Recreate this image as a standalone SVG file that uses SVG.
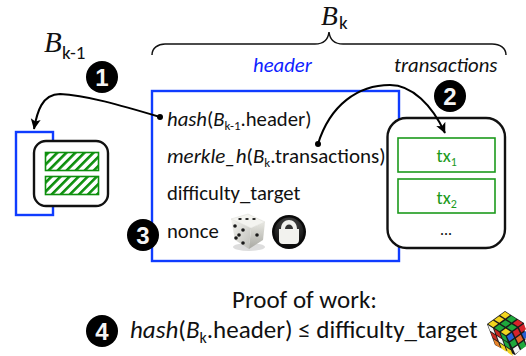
<svg xmlns="http://www.w3.org/2000/svg" width="526" height="356" viewBox="0 0 526 356">
<style>
text{font-family:"Carlito","Lato","Open Sans","Liberation Sans",sans-serif;fill:#111;font-size:20.700px}
.i{font-style:italic}
.b{font-family:"Liberation Serif",serif;font-style:italic;font-size:29px}
.s{font-size:19px}
.blue{fill:none;stroke:#0f3cff;stroke-width:2.4}
.blk{fill:#fff;stroke:#111;stroke-width:2.4}
.tx{fill:#fff;stroke:#1c9a1c;stroke-width:1.6}
.c{fill:none;stroke:#000;stroke-width:2;marker-end:url(#a)}
.n{fill:#f4f4f4;font-family:"Liberation Sans",sans-serif;font-weight:bold;font-size:24px;text-anchor:middle}
.gt{fill:#1c9a1c;font-size:18.500px}
</style>
<defs>
<marker id="a" markerWidth="12" markerHeight="12" refX="10" refY="6" orient="auto" markerUnits="userSpaceOnUse"><path d="M0 1L10.500 6L0 11L2.500 6Z" fill="#000"/></marker>
<pattern id="h" width="6.400" height="6.400" patternUnits="userSpaceOnUse" patternTransform="rotate(45)"><rect width="6.400" height="6.400" fill="#fff"/><rect width="2.600" height="6.400" fill="#0d8f0d"/></pattern>
<linearGradient id="dl" x1="0" y1="0" x2="1" y2="1"><stop offset="0" stop-color="#f6f6f2"/><stop offset="1" stop-color="#bdbdb8"/></linearGradient>
<linearGradient id="dr" x1="0" y1="0" x2="0" y2="1"><stop offset="0" stop-color="#e8e8e2"/><stop offset="1" stop-color="#a8a8a2"/></linearGradient>
<radialGradient id="lk" cx="0.500" cy="0.300" r="0.700"><stop offset="0" stop-color="#555"/><stop offset="1" stop-color="#0a0a0a"/></radialGradient>
</defs>
<g id="prev-block">
<rect class="blue" x="16" y="132" width="37" height="83"/>
<rect class="blk" x="34" y="141" width="74" height="65" rx="12"/>
<rect x="45.500" y="152.500" width="53" height="18" fill="url(#h)" stroke="#0d8f0d" stroke-width="1.600"/>
<rect x="45.500" y="176.500" width="53" height="18" fill="url(#h)" stroke="#0d8f0d" stroke-width="1.600"/>
<text class="b" x="44" y="52">B</text><text x="62" y="59" style="font-size:19px">k-1</text>
</g>
<g id="brace"><path fill="none" stroke="#111" stroke-width="1.500" d="M152 55C152 48 158 44 165 44H315C323 44 328 40 329 32C330 40 335 44 343 44H492C500 44 506 48 506 55"/>
<text class="b" x="321" y="24.500" style="font-size:27.500px">B</text><text x="339" y="29" class="s">k</text></g>
<g id="header">
<rect class="blue" x="152" y="91" width="247" height="170"/>
<text class="i" x="253" y="72" style="fill:#0f1fff">header</text>
<text x="167" y="126"><tspan class="i">hash</tspan>(<tspan class="i">B</tspan><tspan dy="4" font-size="13">k-1</tspan><tspan dy="-4">.header)</tspan></text>
<text x="167" y="163" style="font-size:21px"><tspan class="i">merkle_h</tspan>(<tspan class="i">B</tspan><tspan dy="4" font-size="13">k</tspan><tspan dy="-4">.transactions)</tspan></text>
<text x="167" y="200">difficulty_target</text>
<text x="167" y="238">nonce</text>
</g>
<g id="transactions">
<text class="i" x="394" y="72">transactions</text>
<rect class="blk" x="387.500" y="118" width="117.500" height="130" rx="19"/>
<rect class="tx" x="398" y="138" width="97" height="34"/>
<text x="436.500" y="162" class="gt">tx<tspan dy="4" font-size="12">1</tspan></text>
<rect class="tx" x="398" y="179" width="97" height="34"/>
<text x="436.500" y="204" class="gt">tx<tspan dy="4" font-size="12">2</tspan></text>
<text x="440" y="235" style="font-size:16px">...</text>
</g>
<g id="connectors">
<circle cx="160" cy="117" r="3" fill="#000"/>
<path class="c" d="M160 117C120 105 85 95 60 94C42 94 37 112 34 129"/>
<circle cx="318" cy="144" r="3" fill="#000"/>
<path class="c" d="M318 144C330 105 358 85 390 85C412 85 432 105 445 133"/>
</g>
<g id="badges">
<circle cx="102" cy="77" r="16"/><text class="n" x="102" y="86">1</text>
<circle cx="450" cy="96" r="16"/><text class="n" x="450" y="105">2</text>
<circle cx="143" cy="235" r="16"/><text class="n" x="143" y="244">3</text>
<circle cx="102" cy="331" r="16"/><text class="n" x="102" y="340">4</text>
</g>
<g id="dice">
<ellipse cx="249" cy="247" rx="16" ry="4" fill="#ddd"/>
<path d="M231 219L251 228L249 249L235 240Z" fill="url(#dl)"/>
<path d="M251 228L265 222L263 240L249 249Z" fill="url(#dr)"/>
<path d="M231 219L248 214L265 222L251 228Z" fill="#f4f4f0" stroke="#d8d8d2" stroke-width=".5"/>
<g fill="#1a1a1a"><circle cx="235" cy="226" r="1.800"/><circle cx="243" cy="230" r="1.800"/><circle cx="239" cy="235" r="1.800"/><circle cx="236" cy="238" r="1.800"/><circle cx="243" cy="243" r="1.800"/><circle cx="257" cy="235" r="1.800"/><ellipse cx="240" cy="219" rx="1.800" ry="1"/><ellipse cx="247" cy="219" rx="1.800" ry="1"/><ellipse cx="254" cy="219" rx="1.800" ry="1"/></g>
</g>
<g id="lock">
<circle cx="289" cy="232" r="17" fill="#0a0a0a"/>
<circle cx="289" cy="232" r="14.500" fill="url(#lk)"/>
<path d="M281 229C281 217 297 217 297 229H299V240Q299 244 295 244H283Q279 244 279 240V229Z" fill="#f2f2ee"/>
<path d="M285 229C285 223 293 223 293 229Z" fill="#333"/>
</g>
<g id="proof">
<text x="232" y="308" style="font-size:25px">Proof of work:</text>
<text x="130" y="338" style="font-size:25px"><tspan class="i">hash</tspan>(<tspan class="i">B</tspan><tspan dy="5" font-size="16">k</tspan><tspan dy="-5">.header) ≤ difficulty_target</tspan></text>
</g>
<g id="cube">
<path d="M487 324L505 311L524 323L526 345L515 355L495 345Z" fill="#1a1a1a"/>
<g transform="matrix(6,-4.330,6.330,4,487,324)">
<rect x=".1" y=".1" width=".8" height=".8" fill="#f2d51e"/><rect x="1.100" y=".1" width=".8" height=".8" fill="#f2d51e"/><rect x="2.100" y=".1" width=".8" height=".8" fill="#f2d51e"/>
<rect x=".1" y="1.100" width=".8" height=".8" fill="#1fa83c"/><rect x="1.100" y="1.100" width=".8" height=".8" fill="#1fa83c"/><rect x="2.100" y="1.100" width=".8" height=".8" fill="#1fa83c"/>
<rect x=".1" y="2.100" width=".8" height=".8" fill="#f2d51e"/><rect x="1.100" y="2.100" width=".8" height=".8" fill="#1fa83c"/><rect x="2.100" y="2.100" width=".8" height=".8" fill="#d8232a"/>
</g>
<g transform="matrix(6.330,4,2.670,7,487,324)">
<rect x=".1" y=".1" width=".8" height=".8" fill="#f4f4f4"/><rect x="1.100" y=".1" width=".8" height=".8" fill="#c42a22"/><rect x="2.100" y=".1" width=".8" height=".8" fill="#1fa83c"/>
<rect x=".1" y="1.100" width=".8" height=".8" fill="#c42a22"/><rect x="1.100" y="1.100" width=".8" height=".8" fill="#f4f4f4"/><rect x="2.100" y="1.100" width=".8" height=".8" fill="#1fa83c"/>
<rect x=".1" y="2.100" width=".8" height=".8" fill="#e8842a"/><rect x="1.100" y="2.100" width=".8" height=".8" fill="#f2d51e"/><rect x="2.100" y="2.100" width=".8" height=".8" fill="#f2d51e"/>
</g>
<g transform="matrix(6,-4.330,3,6.330,506,336)">
<rect x=".1" y=".1" width=".8" height=".8" fill="#2460d8"/><rect x="1.100" y=".1" width=".8" height=".8" fill="#d8232a"/><rect x="2.100" y=".1" width=".8" height=".8" fill="#d8232a"/>
<rect x=".1" y="1.100" width=".8" height=".8" fill="#1fa83c"/><rect x="1.100" y="1.100" width=".8" height=".8" fill="#e8642a"/><rect x="2.100" y="1.100" width=".8" height=".8" fill="#2460d8"/>
<rect x=".1" y="2.100" width=".8" height=".8" fill="#f4f4f4"/><rect x="1.100" y="2.100" width=".8" height=".8" fill="#1fa83c"/><rect x="2.100" y="2.100" width=".8" height=".8" fill="#f4f4f4"/>
</g>
</g>
</svg>
